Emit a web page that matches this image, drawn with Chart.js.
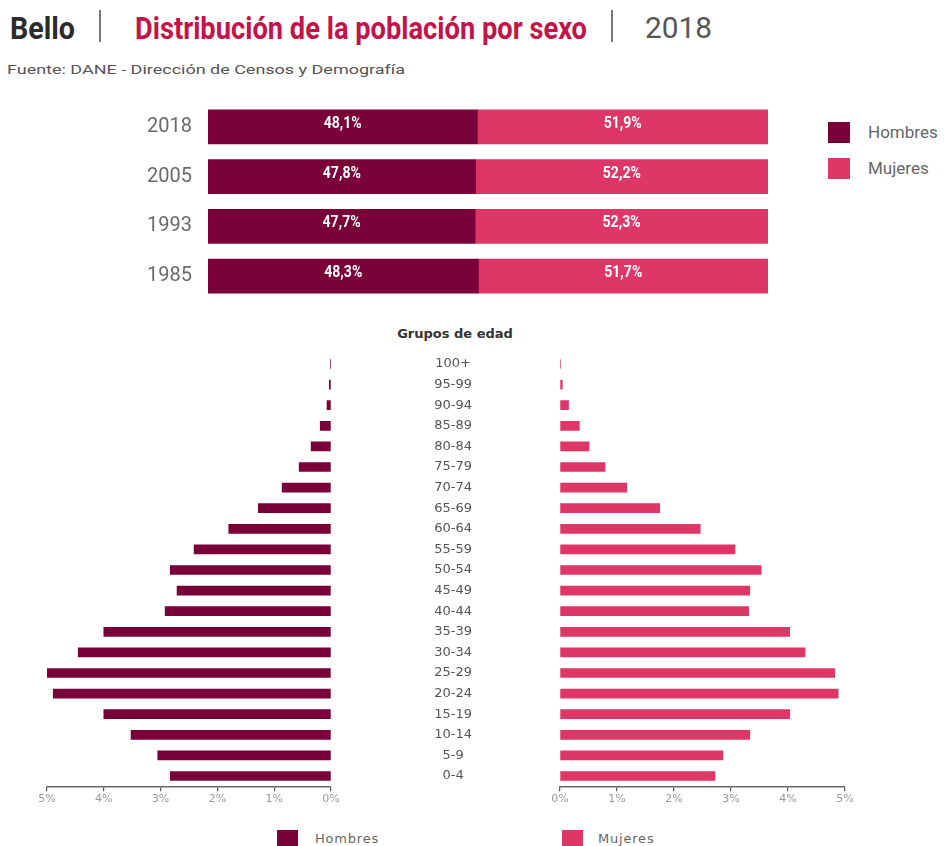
<!DOCTYPE html>
<html>
<head>
<meta charset="utf-8">
<script src="https://cdn.jsdelivr.net/npm/chart.js@4.4.1/dist/chart.umd.min.js"></script>
<style>
  html, body { margin:0; padding:0; background:#fff; }
  #page { position:relative; width:951px; height:846px; overflow:hidden; background:#fff; }
  .abs { position:absolute; white-space:nowrap; }
  .fit { transform-origin:0 50%; display:inline-block; }
  canvas { position:absolute; }
  .sq { position:absolute; }
</style>
</head>
<body>
<div id="page">
  <div class="abs fit" id="tBello" style="left:10px;top:9px;font:bold 32px 'Liberation Sans Narrow','Roboto',sans-serif;color:#2b2b2b;" data-w="65">Bello</div>
  <div class="abs" style="left:99px;top:10px;width:2px;height:32px;background:#777;"></div>
  <div class="abs fit" id="tMain" style="left:135px;top:9px;font:bold 32px 'Liberation Sans Narrow','Roboto',sans-serif;color:#c4124a;" data-w="452">Distribución de la población por sexo</div>
  <div class="abs" style="left:611px;top:10px;width:2px;height:32px;background:#777;"></div>
  <div class="abs fit" id="tYear" style="left:645px;top:10px;font:30px 'Roboto',sans-serif;color:#555;" data-w="67">2018</div>
  <div class="abs fit" id="tSrc" style="left:7px;top:62px;font:13px 'Roboto',sans-serif;color:#555;" data-w="398">Fuente: DANE - Dirección de Censos y Demografía</div>

  <div class="sq" style="left:828px;top:122px;width:22px;height:21px;background:#790038;"></div>
  <div class="abs" style="left:868px;top:122px;font:17px 'Roboto',sans-serif;color:#666;">Hombres</div>
  <div class="sq" style="left:828px;top:158px;width:22px;height:21px;background:#df3668;"></div>
  <div class="abs" style="left:868px;top:158px;font:17px 'Roboto',sans-serif;color:#666;">Mujeres</div>

  <div class="abs" style="left:380px;top:326px;width:150px;text-align:center;font:bold 13px 'DejaVu Sans',sans-serif;color:#333;">Grupos de edad</div>

  <div class="sq" style="left:277px;top:830px;width:21px;height:17px;background:#790038;"></div>
  <div class="abs" style="left:315px;top:831px;font:13px 'DejaVu Sans',sans-serif;letter-spacing:0.8px;color:#666;">Hombres</div>
  <div class="sq" style="left:562px;top:830px;width:21px;height:17px;background:#df3668;"></div>
  <div class="abs" style="left:598px;top:831px;font:13px 'DejaVu Sans',sans-serif;letter-spacing:0.8px;color:#666;">Mujeres</div>

  <canvas id="cTop" width="800" height="223" style="left:0px;top:90px;"></canvas>
  <canvas id="cLeft" width="360" height="480" style="left:0px;top:340px;"></canvas>
  <canvas id="cRight" width="611" height="480" style="left:340px;top:340px;"></canvas>
</div>
<script>
// ---- Data ----
const years = ['2018', '2005', '1993', '1985'];
const hombresPct = [48.1, 47.8, 47.7, 48.3];
const mujeresPct = [51.9, 52.2, 52.3, 51.7];

const ageGroups = ['0-4','5-9','10-14','15-19','20-24','25-29','30-34','35-39','40-44','45-49',
                   '50-54','55-59','60-64','65-69','70-74','75-79','80-84','85-89','90-94','95-99','100+'];
const hombresEdad = [2.83, 3.05, 3.52, 4.00, 4.89, 5.00, 4.45, 4.00, 2.92, 2.71,
                     2.83, 2.41, 1.80, 1.28, 0.86, 0.56, 0.35, 0.19, 0.07, 0.03, 0.01];
const mujeresEdad = [2.72, 2.86, 3.33, 4.03, 4.88, 4.82, 4.30, 4.03, 3.31, 3.33,
                     3.53, 3.07, 2.46, 1.75, 1.17, 0.79, 0.51, 0.34, 0.15, 0.04, 0.01];
const pctTicks = [0, 1, 2, 3, 4, 5];

const colH = '#790038';
const colM = '#df3668';

// fit title texts to measured widths
document.querySelectorAll('.fit').forEach(el => {
  const w = parseFloat(el.dataset.w);
  const r = el.getBoundingClientRect().width;
  if (r > 0) el.style.transform = 'scaleX(' + (w / r) + ')';
});

Chart.defaults.animation = false;
Chart.defaults.responsive = false;
Chart.defaults.plugins.legend.display = false;
Chart.defaults.plugins.tooltip.enabled = false;

// label plugin for the top chart
const barLabels = {
  id: 'barLabels',
  afterDatasetsDraw(chart) {
    const ctx = chart.ctx;
    ctx.save();
    ctx.fillStyle = '#fff';
    ctx.font = "bold 16px 'Roboto',sans-serif";
    ctx.textAlign = 'center';
    ctx.textBaseline = 'middle';
    chart.data.datasets.forEach((ds, di) => {
      const meta = chart.getDatasetMeta(di);
      meta.data.forEach((bar, i) => {
        const p = bar.getProps(['x', 'y', 'base'], true);
        const cx = (p.x + p.base) / 2;
        const txt = ds.data[i].toFixed(1).replace('.', ',') + '%';
        ctx.save();
        ctx.translate(cx, p.y - 3);
        ctx.scale(0.88, 1);
        ctx.fillText(txt, 0, 0);
        ctx.restore();
      });
    });
    ctx.restore();
  }
};

new Chart(document.getElementById('cTop'), {
  type: 'bar',
  data: {
    labels: years,
    datasets: [
      { label: 'Hombres', data: hombresPct, backgroundColor: colH, barThickness: 34 },
      { label: 'Mujeres', data: mujeresPct, backgroundColor: colM, barThickness: 34 }
    ]
  },
  options: {
    indexAxis: 'y',
    layout: { padding: { left: 0, right: 32, top: 0, bottom: 0 } },
    scales: {
      x: { stacked: true, min: 0, max: 100, display: false },
      y: {
        stacked: true,
        grid: { display: false, drawTicks: true, tickLength: 16 },
        border: { display: false },
        ticks: { font: { family: 'Roboto', size: 20 }, color: '#6a6a6a', padding: 0 },
        afterFit: s => { s.width = 208; }
      }
    }
  },
  plugins: [barLabels]
});

function xAxis(reverse) {
  return {
    type: 'linear', min: 0, max: 5, reverse: reverse,
    afterBuildTicks: s => { s.ticks = pctTicks.map(v => ({ value: v })); },
    ticks: { callback: v => v + '%', font: { family: 'DejaVu Sans', size: 11 }, color: '#999', padding: 1, autoSkip: false, maxRotation: 0 },
    grid: { drawOnChartArea: false, drawTicks: true, tickLength: 5, color: '#555', lineWidth: 1.2 },
    border: { display: true, color: '#666', width: 1.5 },
    afterFit: s => { s.height = 24; }
  };
}

new Chart(document.getElementById('cLeft'), {
  type: 'bar',
  data: {
    labels: ageGroups,
    datasets: [{ label: 'Hombres', data: hombresEdad, backgroundColor: colH, barThickness: 9 }]
  },
  options: {
    indexAxis: 'y',
    layout: { padding: { left: 47, right: 29, top: 13.7, bottom: 9.7 } },
    scales: {
      x: xAxis(true),
      y: { reverse: true, display: false }
    }
  }
});

new Chart(document.getElementById('cRight'), {
  type: 'bar',
  data: {
    labels: ageGroups,
    datasets: [{ label: 'Mujeres', data: mujeresEdad, backgroundColor: colM, barThickness: 9 }]
  },
  options: {
    indexAxis: 'y',
    layout: { padding: { left: 0, right: 106, top: 13.7, bottom: 9.7 } },
    scales: {
      x: xAxis(false),
      y: {
        reverse: true,
        grid: { display: false, drawTicks: true, tickLength: 88 },
        border: { display: false },
        ticks: { font: { family: 'DejaVu Sans', size: 13 }, color: '#555', padding: 0, crossAlign: 'center', autoSkip: false },
        afterFit: s => { s.width = 220; }
      }
    }
  }
});
</script>
</body>
</html>
